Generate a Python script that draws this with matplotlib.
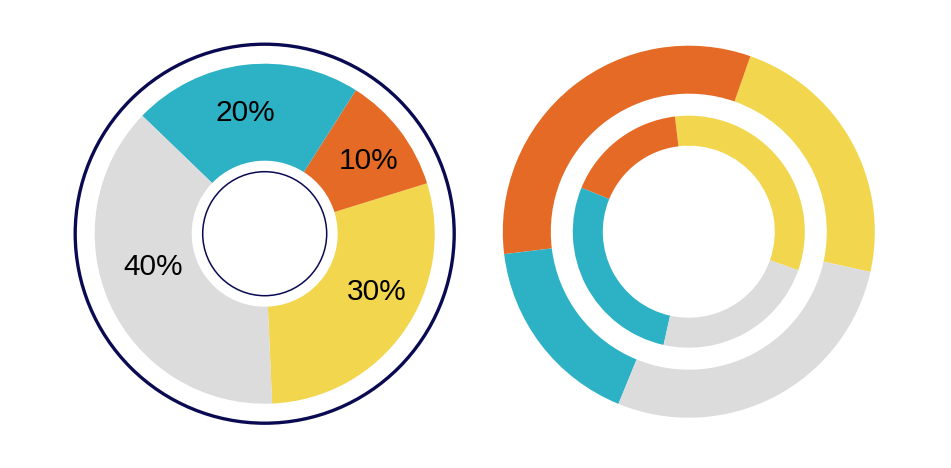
import numpy as np
import matplotlib.pyplot as plt
from matplotlib.patches import Circle

# left donut: wedge shares and the printed labels
left_vals = [29.1, 11.2, 21.8, 37.9]          # yellow, orange, teal, gray
left_labels = ['30%', '10%', '20%', '40%']
left_start = -87.5

# right double ring
outer_vals = [23.1, 32.3, 16.9, 27.7]         # yellow, orange, teal, gray
outer_start = -12.5
inner_vals = [32.3, 16.9, 27.7, 23.1]
inner_start = -19.4

colors = ['#F2D64E', '#E46A25', '#2DB1C4', '#DCDCDC']
navy = '#0A0A52'

plt.rcParams['font.family'] = ['Liberation Sans', 'DejaVu Sans']

fig = plt.figure(figsize=(9.51, 4.68), dpi=100)
ax = fig.add_axes([0, 0, 1, 1])

# left
cL = (264.7, 234.3)
ax.pie(left_vals, colors=colors, startangle=left_start, counterclock=True,
       radius=170, center=cL, frame=True,
       wedgeprops=dict(width=97, linewidth=0))
ax.add_patch(Circle(cL, 189.5, fill=False, ec=navy, lw=2.4))
ax.add_patch(Circle(cL, 62, fill=False, ec=navy, lw=1.1))

# label spots (angle in deg, radius) placed by hand like the original
lab_pos = [(-27.6, 126), (34.9, 127), (99, 122), (196.8, 116)]
for txt, (ang, r) in zip(left_labels, lab_pos):
    a = np.deg2rad(ang)
    ax.text(cL[0] + r * np.cos(a), cL[1] + r * np.sin(a), txt,
            ha='center', va='center', fontsize=21.5, color='black')

# right
cR = (688.8, 236.3)
ax.pie(outer_vals, colors=colors, startangle=outer_start, counterclock=True,
       radius=186, center=cR, frame=True,
       wedgeprops=dict(width=48, linewidth=0))
ax.pie(inner_vals, colors=colors, startangle=inner_start, counterclock=True,
       radius=116, center=cR, frame=True,
       wedgeprops=dict(width=30, linewidth=0))

ax.set_xlim(0, 951)
ax.set_ylim(0, 468)
ax.set_aspect('equal')
ax.axis('off')

plt.savefig('out.png', dpi=100)
